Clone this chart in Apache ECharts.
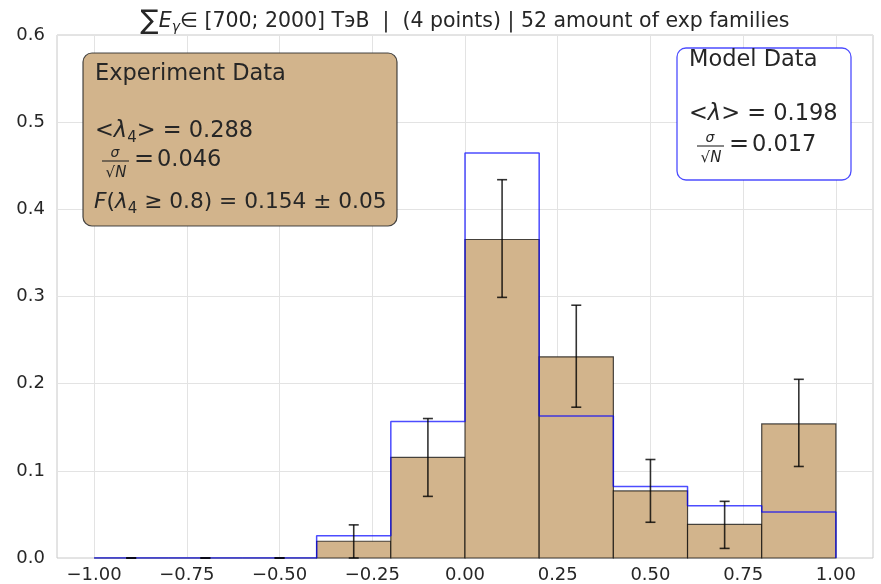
<!DOCTYPE html>
<html>
<head>
<meta charset="utf-8">
<script src="https://cdn.jsdelivr.net/npm/echarts@6/dist/echarts.min.js"></script>
<style>
html, body { margin: 0; padding: 0; background: #fff; }
#chart { width: 881px; height: 584px; }
</style>
</head>
<body>
<div id="chart"></div>
<script>
// histogram bins (lambda_4), width 0.2
var binEdges = [-1.0, -0.8, -0.6, -0.4, -0.2, 0.0, 0.2, 0.4, 0.6, 0.8, 1.0]
// experiment: counts / 52 families
var expValues = [0, 0, 0, 0.0192, 0.1154, 0.3654, 0.2308, 0.0769, 0.0385, 0.1538]
var errLow = [0, 0, 0, 0, 0.0707, 0.299, 0.173, 0.041, 0.011, 0.105]
var errHigh = [0, 0, 0, 0.038, 0.160, 0.434, 0.290, 0.113, 0.065, 0.205]
// model step histogram
var modelValues = [0, 0, 0, 0.0255, 0.1566, 0.4647, 0.163, 0.0821, 0.0599, 0.0527]
var xTicks = [-1.0, -0.75, -0.5, -0.25, 0.0, 0.25, 0.5, 0.75, 1.0]

var FONT = 'DejaVu Sans'
var TXT = '#262626'

var barData = []
var errData = []
for (var i = 0; i < expValues.length; i++) {
    barData.push([binEdges[i], binEdges[i + 1], expValues[i]])
    errData.push([(binEdges[i] + binEdges[i + 1]) / 2, errLow[i], errHigh[i]])
}
var stepData = [[binEdges[0], 0]]
for (var i = 0; i < modelValues.length; i++) {
    stepData.push([binEdges[i], modelValues[i]])
    stepData.push([binEdges[i + 1], modelValues[i]])
}
stepData.push([binEdges[binEdges.length - 1], 0])

function renderBar(params, api) {
    var p0 = api.coord([api.value(0), api.value(2)])
    var p1 = api.coord([api.value(1), 0])
    return {
        type: 'rect',
        shape: { x: p0[0], y: p0[1], width: p1[0] - p0[0], height: p1[1] - p0[1] },
        style: { fill: '#D2B48C', stroke: 'rgba(0,0,0,0.7)', lineWidth: 1.2 }
    }
}

function renderErr(params, api) {
    var lo = api.coord([api.value(0), api.value(1)])
    var hi = api.coord([api.value(0), api.value(2)])
    var cap = 5
    var st = { stroke: 'rgba(0,0,0,0.8)', lineWidth: 1.6 }
    return {
        type: 'group',
        children: [
            { type: 'line', shape: { x1: lo[0], y1: lo[1], x2: hi[0], y2: hi[1] }, style: st },
            { type: 'line', shape: { x1: lo[0] - cap, y1: lo[1], x2: lo[0] + cap, y2: lo[1] }, style: st },
            { type: 'line', shape: { x1: hi[0] - cap, y1: hi[1], x2: hi[0] + cap, y2: hi[1] }, style: st }
        ]
    }
}

function txt(x, y, text, size) {
    return { type: 'text', z: 100, style: { x: x, y: y, text: text, rich: mathRich(size || 22.5), fill: TXT, font: (size || 22.5) + 'px ' + FONT, verticalAlign: 'middle' } }
}

function mathRich(size) {
    return {
        n: { fontFamily: FONT, fontSize: size, color: TXT, lineHeight: 30 },
        i: { fontFamily: FONT, fontSize: size, fontStyle: 'italic', color: TXT, lineHeight: 30 },
        s: { fontFamily: FONT, fontSize: 15, color: TXT, lineHeight: 16, padding: [14, 0, 0, 0] }
    }
}

// sigma / sqrt(N) followed by "= value"
function fraction(x, yMid, value) {
    return [
        { type: 'text', z: 100, style: { x: x + 13, y: yMid - 8, text: 'σ', fill: TXT, font: 'italic 14px ' + FONT, align: 'center', verticalAlign: 'middle' } },
        { type: 'line', z: 100, shape: { x1: x, y1: yMid, x2: x + 27, y2: yMid }, style: { stroke: TXT, lineWidth: 1.1 } },
        { type: 'text', z: 100, style: { x: x + 14, y: yMid + 12, text: '√N', fill: TXT, font: 'italic 15px ' + FONT, align: 'center', verticalAlign: 'middle' } },
        { type: 'text', z: 100, style: { x: x + 32, y: yMid - 1, text: '=', fill: TXT, font: '24px ' + FONT, verticalAlign: 'middle' } },
        { type: 'text', z: 100, style: { x: x + 55, y: yMid - 1, text: value, fill: TXT, font: '22.5px ' + FONT, verticalAlign: 'middle' } }
    ]
}

var graphics = [
    { type: 'rect', z: 90, shape: { x: 83, y: 53, width: 314, height: 173, r: 9 },
      style: { fill: '#D2B48C', stroke: 'rgba(40,40,40,0.85)', lineWidth: 1.2 } },
    txt(95, 74, '{n|Experiment Data}'),
    txt(95, 131, '{n|<}{i|λ}{s|4}{n|> = 0.288}'),
    txt(94, 202, '{i|F}{n|(}{i|λ}{s|4}{n| ≥ 0.8) = 0.154 ± 0.05}', 21.7),
    { type: 'rect', z: 90, shape: { x: 677, y: 48, width: 174, height: 132, r: 9 },
      style: { fill: '#fff', stroke: 'rgba(0,0,255,0.7)', lineWidth: 1.3 } },
    txt(689, 60, '{n|Model Data}'),
    txt(689, 114, '{n|<}{i|λ}{n|> = 0.198}')
].concat(fraction(102, 161, '0.046')).concat(fraction(697, 146, '0.017'))

var chart = echarts.init(document.getElementById('chart'))
var option = {
    animation: false,
    backgroundColor: '#fff',
    title: {
        text: '{sum|∑}{e|E}{g|γ}{t|∈ [700; 2000] ТэВ  |  (4 points) | 52 amount of exp families}',
        left: 460,
        textAlign: 'center',
        top: 3,
        textStyle: {
            fontWeight: 'normal',
            rich: {
                sum: { fontFamily: FONT, fontSize: 27, fontWeight: 'normal', color: TXT, lineHeight: 28 },
                e: { fontFamily: FONT, fontSize: 20.5, fontWeight: 'normal', fontStyle: 'italic', color: TXT, lineHeight: 28 },
                g: { fontFamily: FONT, fontSize: 14, fontWeight: 'normal', fontStyle: 'italic', color: TXT, lineHeight: 15, padding: [11, 0, 0, 0] },
                t: { fontFamily: FONT, fontSize: 20.5, fontWeight: 'normal', color: TXT, lineHeight: 28 }
            }
        }
    },
    grid: { left: 57, right: 8, top: 35, bottom: 24, show: true, borderColor: '#c8c8c8', borderWidth: 1, backgroundColor: 'transparent' },
    xAxis: {
        type: 'value', min: -1.1, max: 1.1,
        axisLine: { show: false },
        axisTick: { show: false, customValues: xTicks },
        splitLine: { show: true, lineStyle: { color: '#e3e3e3', width: 1 } },
        axisLabel: {
            customValues: xTicks, margin: 8,
            fontFamily: FONT, fontSize: 18, color: TXT,
            formatter: function(v) { return v.toFixed(2).replace('-', '\u2212') }
        }
    },
    yAxis: {
        type: 'value', min: 0, max: 0.6, interval: 0.1,
        axisLine: { show: false },
        axisTick: { show: false },
        splitLine: { show: true, lineStyle: { color: '#e3e3e3', width: 1 } },
        axisLabel: {
            margin: 12, fontFamily: FONT, fontSize: 18, color: TXT,
            formatter: function(v) { return v.toFixed(1) }
        }
    },
    series: [
        { type: 'custom', renderItem: renderBar, data: barData, z: 2, encode: { x: [0, 1], y: 2 } },
        { type: 'line', data: stepData, z: 3, symbol: 'none', silent: true,
          lineStyle: { color: 'rgba(0,0,255,0.7)', width: 1.5 } },
        { type: 'custom', renderItem: renderErr, data: errData, z: 4, encode: { x: 0, y: [1, 2] } }
    ],
    graphic: graphics
}
chart.setOption(option)
</script>
</body>
</html>
